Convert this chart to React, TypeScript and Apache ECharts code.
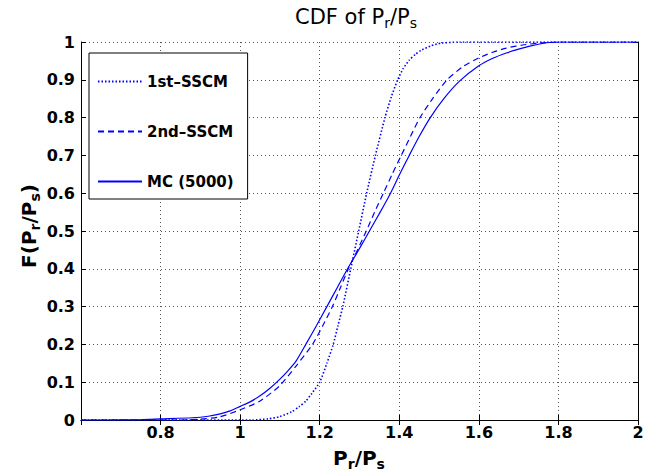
import React, { useEffect, useRef } from "react";
import * as echarts from "echarts";

const seriesNames = ["1st\u2013SSCM", "2nd\u2013SSCM", "MC (5000)"];

const firstSSCM: [number, number][] = [
  [0.6, 0], [1.03, 0], [1.07, 0.003], [1.1, 0.009], [1.13, 0.022], [1.148, 0.035],
  [1.165, 0.05], [1.18, 0.07], [1.2, 0.1], [1.218, 0.15], [1.234, 0.2], [1.246, 0.25],
  [1.258, 0.3], [1.278, 0.4], [1.298, 0.5], [1.318, 0.6], [1.34, 0.7], [1.364, 0.8],
  [1.38, 0.855], [1.396, 0.9], [1.41, 0.93], [1.425, 0.952], [1.44, 0.967], [1.455, 0.978],
  [1.48, 0.99], [1.505, 0.997], [1.55, 1], [2, 1],
];

const secondSSCM: [number, number][] = [
  [0.6, 0], [0.85, 0], [0.9, 0.002], [0.948, 0.008], [1.0, 0.027], [1.048, 0.049],
  [1.098, 0.089], [1.14, 0.142], [1.182, 0.2], [1.208, 0.25], [1.232, 0.3], [1.252, 0.35],
  [1.272, 0.4], [1.295, 0.45], [1.317, 0.5], [1.338, 0.55], [1.36, 0.6], [1.382, 0.65],
  [1.405, 0.7], [1.428, 0.75], [1.452, 0.8], [1.485, 0.852], [1.52, 0.9], [1.56, 0.935],
  [1.6, 0.958], [1.635, 0.973], [1.669, 0.984], [1.71, 0.992], [1.75, 0.997], [1.8, 1], [2, 1],
];

const monteCarlo: [number, number][] = [
  [0.6, 0], [0.66, 0], [0.75, 0.001], [0.8, 0.003], [0.88, 0.006], [0.92, 0.01],
  [0.95, 0.016], [0.975, 0.024], [1.0, 0.036], [1.025, 0.048], [1.05, 0.064], [1.075, 0.084],
  [1.1, 0.108], [1.12, 0.13], [1.14, 0.155], [1.165, 0.2], [1.192, 0.25], [1.218, 0.3],
  [1.244, 0.35], [1.27, 0.4], [1.298, 0.45], [1.325, 0.5], [1.352, 0.55], [1.378, 0.6],
  [1.401, 0.65], [1.425, 0.7], [1.45, 0.75], [1.478, 0.8], [1.512, 0.85], [1.552, 0.897],
  [1.6, 0.937], [1.635, 0.957], [1.669, 0.971], [1.7, 0.981], [1.728, 0.989], [1.77, 0.998],
  [1.8, 1], [2, 1],
];

const xTicks = [0.8, 1, 1.2, 1.4, 1.6, 1.8, 2];

const FONT = "'DejaVu Sans', Verdana, sans-serif";
const BLUE = "#0000ff";

export default function App() {
  const ref = useRef<HTMLDivElement>(null);
  useEffect(() => {
    if (!ref.current) return;
    const chart = echarts.init(ref.current, undefined, { renderer: "svg" });
    const subRich = (size: number, bold: boolean) => ({
      n: { fontSize: size, fontFamily: FONT, fontWeight: bold ? "bold" : "normal", fill: "#000", color: "#000" },
      s: {
        fontSize: Math.round(size * 0.68),
        fontFamily: FONT,
        fontWeight: bold ? "bold" : "normal",
        fill: "#000",
        color: "#000",
        padding: [Math.round(size * 0.55), 0, 0, 0],
      },
    });
    const xAxisCommon = { type: "value" as const, min: 0.6, max: 2, interval: 0.2 };
    const yAxisCommon = { type: "value" as const, min: 0, max: 1, interval: 0.1 };
    const tick = { show: true, inside: true, length: 5, lineStyle: { color: "#000" } };
    const line = { show: true, lineStyle: { color: "#000", width: 1 } };
    const grid = { show: true, lineStyle: { color: "#555", type: [1, 3], width: 1 } };
    chart.setOption({
      animation: false,
      backgroundColor: "#fff",
      graphic: [
        {
          type: "text",
          x: 356,
          y: 17,
          style: {
            text: "{n|CDF of P}{s|r}{n|/P}{s|s}",
            rich: subRich(21, false),
            align: "center",
            verticalAlign: "middle",
          },
        },
        {
          type: "text",
          x: 359,
          y: 458,
          style: {
            text: "{n|P}{s|r}{n|/P}{s|s}",
            rich: subRich(20, true),
            align: "center",
            verticalAlign: "middle",
          },
        },
        {
          type: "text",
          x: 29,
          y: 226,
          rotation: Math.PI / 2,
          style: {
            text: "{n|F(P}{s|r}{n|/P}{s|s}{n|)}",
            rich: subRich(20, true),
            align: "center",
            verticalAlign: "middle",
          },
        },
      ],
      legend: {
        orient: "vertical",
        left: 89,
        top: 53,
        padding: [21, 14, 10, 8],
        itemGap: 35,
        itemWidth: 44,
        itemHeight: 14,
        borderColor: "#000",
        borderWidth: 1,
        backgroundColor: "#fff",
        borderRadius: 0,
        itemStyle: { opacity: 0 },
        textStyle: { fontFamily: FONT, fontWeight: "bold", fontSize: 15, color: "#000" },
        data: seriesNames,
      },
      grid: { left: 81, right: 21, top: 42, bottom: 56, containLabel: false },
      xAxis: [
        {
          ...xAxisCommon,
          position: "bottom",
          axisLine: line,
          axisTick: tick,
          axisLabel: {
            fontFamily: FONT,
            fontWeight: "bold",
            fontSize: 16,
            color: "#000",
            margin: 4,
            formatter: (v: number) =>
              xTicks.some((t) => Math.abs(t - v) < 1e-6) ? String(Math.round(v * 10) / 10) : "",
          },
          splitLine: grid,
        },
        {
          ...xAxisCommon,
          position: "top",
          axisLine: line,
          axisTick: tick,
          axisLabel: { show: false },
          splitLine: { show: false },
        },
      ],
      yAxis: [
        {
          ...yAxisCommon,
          position: "left",
          axisLine: line,
          axisTick: tick,
          axisLabel: {
            fontFamily: FONT,
            fontWeight: "bold",
            fontSize: 16,
            color: "#000",
            margin: 6,
            formatter: (v: number) => String(Math.round(v * 10) / 10),
          },
          splitLine: grid,
        },
        {
          ...yAxisCommon,
          position: "right",
          axisLine: line,
          axisTick: tick,
          axisLabel: { show: false },
          splitLine: { show: false },
        },
      ],
      series: [
        {
          name: seriesNames[0],
          type: "line",
          data: firstSSCM,
          showSymbol: false,
          symbol: "none",
          smooth: 0.2,
          lineStyle: { color: BLUE, width: 1.6, type: [1.5, 2] },
          itemStyle: { color: BLUE },
        },
        {
          name: seriesNames[1],
          type: "line",
          data: secondSSCM,
          showSymbol: false,
          symbol: "none",
          smooth: 0.2,
          lineStyle: { color: BLUE, width: 1.2, type: [6, 4] },
          itemStyle: { color: BLUE },
        },
        {
          name: seriesNames[2],
          type: "line",
          data: monteCarlo,
          showSymbol: false,
          symbol: "none",
          smooth: 0.2,
          lineStyle: { color: BLUE, width: 1.2, type: "solid" },
          itemStyle: { color: BLUE },
        },
      ],
    });
    return () => chart.dispose();
  }, []);
  return <div ref={ref} style={{ width: 659, height: 476, position: "absolute", left: 0, top: 0 }} />;
}
